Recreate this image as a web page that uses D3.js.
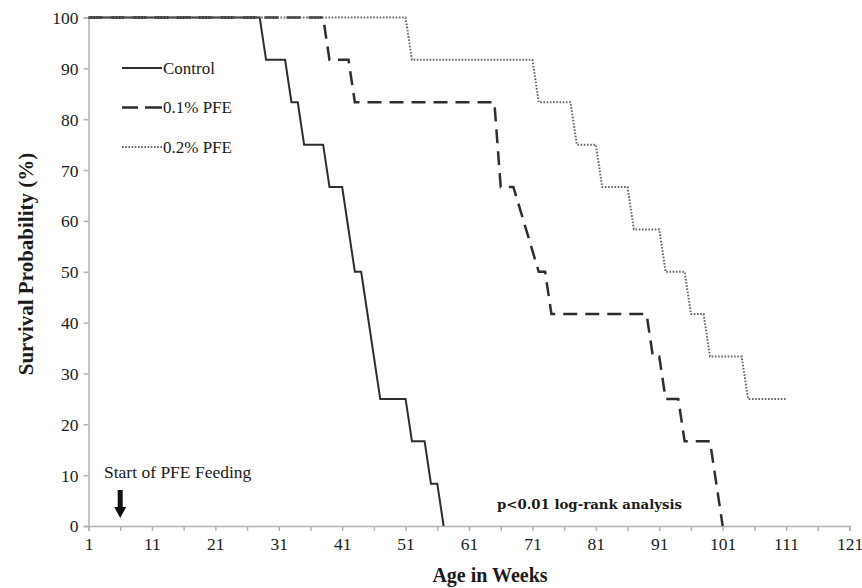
<!DOCTYPE html>
<html>
<head>
<meta charset="utf-8">
<script src="https://cdn.jsdelivr.net/npm/d3@7"></script>
<style>
  body { margin:0; background:#fff; }
</style>
</head>
<body>
<svg></svg>
<script>
// survival curves, only the weeks where the curve changes direction
var controlWeeks = [1, 28, 29, 32, 33, 34, 35, 38, 39, 41, 43, 44, 47, 51, 52, 54, 55, 56, 57];
var controlSurv  = [100, 100, 91.67, 91.67, 83.33, 83.33, 75, 75, 66.67, 66.67, 50, 50, 25, 25, 16.67, 16.67, 8.33, 8.33, 0];

var pfe01Weeks = [1, 38, 39, 42, 43, 65, 66, 68, 72, 73, 74, 89, 90, 91, 92, 94, 95, 99, 101];
var pfe01Surv  = [100, 100, 91.67, 91.67, 83.33, 83.33, 66.67, 66.67, 50, 50, 41.67, 41.67, 33.33, 33.33, 25, 25, 16.67, 16.67, 0];

var pfe02Weeks = [1, 51, 52, 71, 72, 77, 78, 81, 82, 86, 87, 91, 92, 95, 96, 98, 99, 104, 105, 111];
var pfe02Surv  = [100, 100, 91.67, 91.67, 83.33, 83.33, 75, 75, 66.67, 66.67, 58.33, 58.33, 50, 50, 41.67, 41.67, 33.33, 33.33, 25, 25];

var seriesNames = ["Control", "0.1% PFE", "0.2% PFE"];
var xTickLabels = [1, 11, 21, 31, 41, 51, 61, 71, 81, 91, 101, 111, 121];
var yTickLabels = [0, 10, 20, 30, 40, 50, 60, 70, 80, 90, 100];
var feedingStartWeek = 6;

var serif = '"Liberation Serif", "Times New Roman", serif';

var drawChart = function()
{
  var screen = { width: 862, height: 588 };
  var svg = d3.select('svg')
              .attr('width', screen.width)
              .attr('height', screen.height);

  var margins = { top: 17.5, bottom: 62, left: 88.5, right: 12.5 };
  var width = screen.width - margins.left - margins.right;
  var height = screen.height - margins.top - margins.bottom;

  var xscale = d3.scaleLinear().domain([1, 121]).range([0, width]);
  var yscale = d3.scaleLinear().domain([0, 100]).range([height, 0]);

  var plotLand = svg.append('g')
                    .attr('transform', 'translate(' + margins.left + ',' + margins.top + ')');

  // axes
  var axisColor = '#b3b3b3';
  var xAxis = d3.axisBottom(xscale)
                .tickValues(d3.range(1, 122, 5))
                .tickSize(5)
                .tickFormat(function(d) { return xTickLabels.indexOf(d) >= 0 ? d : ''; });
  var gx = plotLand.append('g')
                   .attr('transform', 'translate(0,' + height + ')')
                   .call(xAxis);
  var yAxis = d3.axisLeft(yscale)
                .tickValues(yTickLabels)
                .tickSize(5)
                .tickPadding(5);
  var gy = plotLand.append('g').call(yAxis);

  [gx, gy].forEach(function(g)
  {
    g.attr('font-family', serif).attr('font-size', 17.5);
    g.select('.domain').attr('stroke', axisColor).attr('stroke-width', 1.5);
    g.selectAll('.tick line').attr('stroke', axisColor).attr('stroke-width', 1.5);
    g.selectAll('.tick text').attr('fill', '#1a1a1a');
  });
  gx.selectAll('.tick text').attr('dy', '0.9em');
  gy.selectAll('.tick text').attr('dy', '0.34em');

  // lines
  var line = d3.line()
               .x(function(d) { return xscale(d[0]); })
               .y(function(d) { return yscale(d[1]); });

  var styles = [
    { color: '#2e2e2e', width: 2, dash: null },
    { color: '#2e2e2e', width: 2.5, dash: '14,8' },
    { color: '#666', width: 2, dash: '1.6,1.6' }
  ];
  var series = [
    d3.zip(controlWeeks, controlSurv),
    d3.zip(pfe01Weeks, pfe01Surv),
    d3.zip(pfe02Weeks, pfe02Surv)
  ];

  plotLand.selectAll('path.curve')
          .data(series)
          .enter()
          .append('path')
          .classed('curve', true)
          .attr('d', line)
          .attr('fill', 'none')
          .attr('stroke', function(d, i) { return styles[i].color; })
          .attr('stroke-width', function(d, i) { return styles[i].width; })
          .attr('stroke-dasharray', function(d, i) { return styles[i].dash; });

  // legend
  var legend = svg.append('g').attr('transform', 'translate(122,68)');
  var items = legend.selectAll('g')
                    .data(seriesNames)
                    .enter()
                    .append('g')
                    .attr('transform', function(d, i) { return 'translate(0,' + (i * 39.5) + ')'; });
  items.append('line')
       .attr('x1', 0).attr('x2', 40)
       .attr('stroke', function(d, i) { return styles[i].color; })
       .attr('stroke-width', function(d, i) { return styles[i].width; })
       .attr('stroke-dasharray', function(d, i) { return i == 1 ? '16,7,17' : styles[i].dash; });
  items.append('text')
       .attr('x', 41)
       .attr('dy', '0.33em')
       .attr('font-family', serif)
       .attr('font-size', 17)
       .attr('fill', '#1a1a1a')
       .text(function(d) { return d; });

  // start of feeding note and arrow
  var ax = margins.left + xscale(feedingStartWeek);
  svg.append('text')
     .attr('x', 104)
     .attr('y', 478)
     .attr('font-family', serif)
     .attr('font-size', 17.5)
     .attr('fill', '#1a1a1a')
     .text('Start of PFE Feeding');
  svg.append('path')
     .attr('d', 'M' + (ax - 2.5) + ',490 L' + (ax + 2.5) + ',490 L' + (ax + 2.5) + ',507 L' + (ax + 6) + ',507 L' + ax + ',518 L' + (ax - 6) + ',507 L' + (ax - 2.5) + ',507 Z')
     .attr('fill', '#111');

  svg.append('text')
     .attr('x', 497)
     .attr('y', 509)
     .attr('font-family', '"DejaVu Serif", serif')
     .attr('font-weight', 'bold')
     .attr('font-size', 13.3)
     .attr('fill', '#1a1a1a')
     .text('p<0.01 log-rank analysis');

  // axis titles
  svg.append('text')
     .attr('x', 490)
     .attr('y', 582)
     .attr('text-anchor', 'middle')
     .attr('font-family', serif)
     .attr('font-weight', 'bold')
     .attr('font-size', 20)
     .attr('fill', '#1a1a1a')
     .text('Age in Weeks');
  svg.append('text')
     .attr('transform', 'translate(33,264) rotate(-90)')
     .attr('text-anchor', 'middle')
     .attr('font-family', serif)
     .attr('font-weight', 'bold')
     .attr('font-size', 21)
     .attr('fill', '#1a1a1a')
     .text('Survival Probability (%)');
}

drawChart();
</script>
</body>
</html>
